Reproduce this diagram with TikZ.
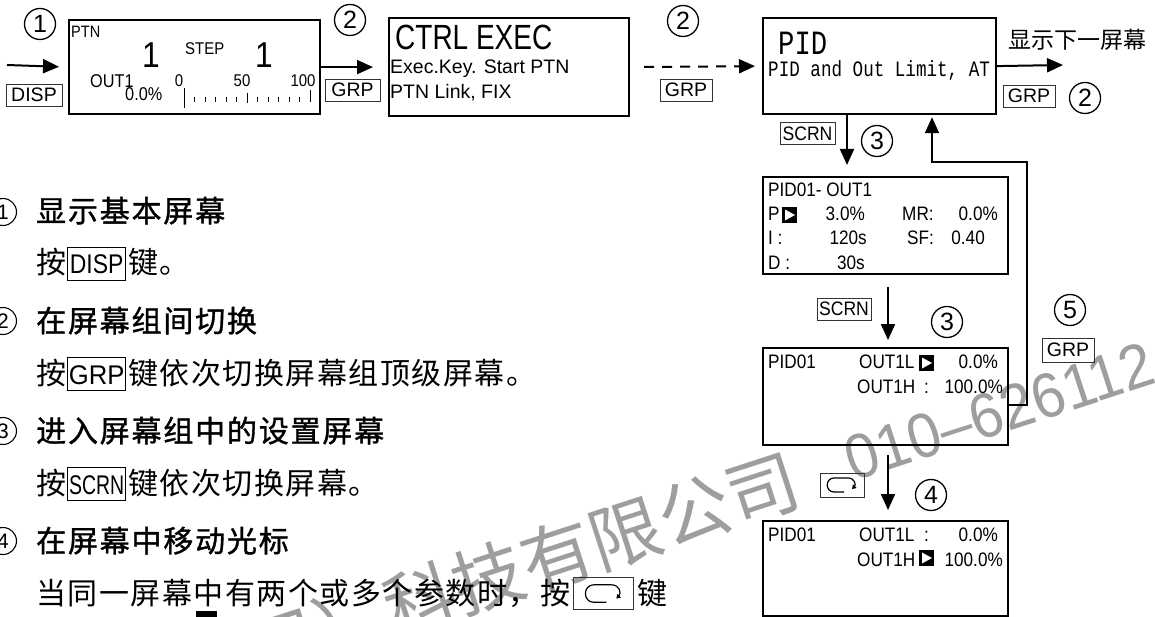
\documentclass[tikz,border=0pt]{standalone}
\usepackage{fontspec}
\usepackage{graphicx}
\setmainfont{Liberation Sans}
\newfontfamily\scrfont[FakeStretch=0.88]{Liberation Sans}
\newfontfamily\scrnfont[FakeStretch=0.8]{Liberation Sans}
\newfontfamily\wmfont[FakeStretch=0.93]{Liberation Sans}
\newfontfamily\pidfont[FakeStretch=0.8]{Liberation Mono}
\newfontfamily\cjkfont{Noto Sans CJK SC}
\newfontfamily\cjkbody[LetterSpace=5]{Noto Sans CJK SC}
\newfontfamily\cjkhead[LetterSpace=6,FakeBold=1.2]{Noto Sans CJK SC}
\usetikzlibrary{arrows.meta}
\newcommand\fs[1]{\fontsize{#1}{#1}\selectfont}
\newcommand\kb[2]{{\setlength\fboxsep{0pt}\setlength\fboxrule{0.9pt}\fbox{\rule[-6pt]{0pt}{32pt}\makebox[57pt]{\normalfont\fs{27}\scalebox{#1}[1]{#2}}}}}
\tikzset{
  screen/.style={draw, line width=2.2pt, inner sep=0pt, anchor=north west},
  key/.style={draw=black!80, line width=0.8pt, inner sep=0pt, minimum height=22pt, font=\normalfont\fs{19.5}},
  arr/.style={line width=2pt, -{Triangle[length=16pt,width=14pt]}},
  num/.style={circle, draw, line width=1.3pt, minimum size=31pt, inner sep=0pt, font=\normalfont\fs{25}},
  lnum/.style={circle, draw, line width=1.1pt, minimum size=27pt, inner sep=0pt, font=\normalfont\fs{21}},
  st/.style={font=\scrfont\fs{19.5}, inner sep=0pt, anchor=base west},
  ste/.style={st, anchor=base east},
  head/.style={font=\cjkhead\fs{30}, inner sep=0pt, anchor=base west},
  body/.style={font=\cjkbody\fs{30}, inner sep=0pt, anchor=base west},
  wmark/.style={text=black!38, rotate=18, inner sep=0pt},
  cur/.pic={\fill (0,0) rectangle (15,16); \fill[white] (3,2.5) -- (3,13.5) -- (13,8) -- cycle;},
  loopsym/.pic={\draw[line width=1.2pt, -{Triangle[length=4pt,width=5pt]}] (2,7) -- (-8,7) .. controls (-17,7) and (-17,-7) .. (-8,-7) -- (6,-7) .. controls (13,-7) and (14,0) .. (10,4);}
}
\begin{document}
\begin{tikzpicture}[x=1pt,y=-1pt]
\clip (0,0) rectangle (1155,617);
% watermark
\node[wmark, font=\cjkfont\fs{72}, anchor=base west] (wm) at (394,637) {科技有限公司};
\node[wmark, font=\cjkfont\fs{72}, anchor=base east] (wm0) at (wm.base west) {司）};
\node[wmark, font=\wmfont\fs{63}, anchor=base west] (wm1) at (853,482) {010–626112};
% ---------- top row ----------
\node[num] (n1) at (40,24) {1};
\coordinate (in1) at (7,65);
\node[key, minimum width=56pt] (kdisp) at (34,95) {DISP};
\node[screen, minimum width=251pt, minimum height=94pt] (b1) at (68,19) {};
\node[st, font=\scrfont\fs{16.5}] (ptn) at (71,38) {PTN};
\node[font=\scrfont\fs{36}, inner sep=0pt, anchor=base] (one1) at (151,68) {1};
\node[st, font=\scrfont\fs{17}] (step) at (185,55) {STEP};
\node[font=\scrfont\fs{36}, inner sep=0pt, anchor=base] (one2) at (264,68) {1};
\node[st, font=\scrfont\fs{18.5}] (out1) at (90,88) {OUT1};
\node[st, font=\scrfont\fs{18.5}] (pct) at (125,101) {0.0\%};
\node[font=\scrfont\fs{17}, inner sep=0pt, anchor=base] (s0) at (179,87) {0};
\node[font=\scrfont\fs{17}, inner sep=0pt, anchor=base] (s50) at (242,87) {50};
\node[font=\scrfont\fs{17}, inner sep=0pt, anchor=base] (s100) at (303,87) {100};
\draw[line width=1pt] (184,88) -- (184,108);
\foreach \i in {1,2,3,4,5,7,8,9,10,11} \draw[line width=0.8pt] ({184+10.5*\i},97) -- ++(0,5);
\draw[line width=1pt] (247,93) -- (247,103);
\draw[line width=1pt] (310,90) -- (310,102);
\draw[arr, shorten >=9pt] (in1) -- (b1.west);

\node[num] (n2a) at (350,20) {2};
\node[key, minimum width=55pt] (kgrp1) at (352.5,90) {GRP};
\node[screen, minimum width=240pt, minimum height=98pt] (b2) at (388,17) {};
\node[st, font=\scrnfont\fs{35}] (ctrl) at (395,50) {CTRL EXEC};
\node[st, font=\normalfont\fs{19.5}] (exec) at (390,74) {Exec.Key. Start PTN};
\node[st, font=\normalfont\fs{19.5}] (link) at (390,99) {PTN Link, FIX};
\draw[arr, shorten >=15pt] (b1.east) -- (b2.west);

\node[num] (n2b) at (683,21) {2};
\node[key, minimum width=52pt] (kgrp2) at (686,90) {GRP};
\node[screen, minimum width=233pt, minimum height=96pt] (b3) at (762,17) {};
\node[st, font=\pidfont\fs{34}] (pid) at (778,55) {PID};
\node[st, font=\pidfont\fs{22}] (pidl) at (768,77) {PID and Out Limit, AT};
\draw[arr, dashed, dash pattern=on 10pt off 8pt, shorten <=14pt, shorten >=7pt] (b2.east) -- (b3.west);

\coordinate (out3) at (1063,65);
\draw[arr] (b3.east) -- (out3);
\node[font=\cjkfont\fs{23}, inner sep=0pt, anchor=base west] (next) at (1008,49) {显示下一屏幕};
\node[key, minimum width=52pt] (kgrp3) at (1029,96) {GRP};
\node[num] (n2c) at (1085,98) {2};

% ---------- right column ----------
\node[screen, minimum width=245pt, minimum height=97pt] (b4) at (762,176) {};
\node[screen, minimum width=245pt, minimum height=97pt] (b5) at (762,347) {};
\node[screen, minimum width=245pt, minimum height=95pt] (b6) at (762,520) {};

\draw[arr, shorten >=11pt] (b3.south -| 847,0) -- (b4.north -| 847,0);
\node[key, minimum width=55pt, font=\normalfont\fs{19.5}] (kscrn1) at (807.5,133.5) {\scalebox{0.9}[1]{SCRN}};
\node[num] (n3a) at (877,141) {3};
\draw[arr, shorten >=2pt] (b5.east |- 0,405) -| (1027,162) -| (b3.south -| 932,0);

% box 4
\node[st] (r0) at (768,197) {PID01- OUT1};
\node[st] (r1p) at (768,221) {P};
\pic at (782,207) {cur};
\node[ste] (r1v) at (865,221) {3.0\%};
\node[st] (r1m) at (902,221) {MR:};
\node[ste] (r1w) at (998,221) {0.0\%};
\node[st] (r2i) at (768,245) {I :};
\node[ste] (r2v) at (867,245) {120s};
\node[st] (r2s) at (907,245) {SF:};
\node[ste] (r2w) at (985,245) {0.40};
\node[st] (r3d) at (768,270) {D :};
\node[ste] (r3v) at (865,270) {30s};

\draw[arr, shorten <=12pt, shorten >=7pt] (b4.south -| 888,0) -- (b5.north -| 888,0);
\node[key, minimum width=54pt] (kscrn2) at (844,309) {\scalebox{0.9}[1]{SCRN}};
\node[num] (n3b) at (947,322) {3};
\node[num] (n5) at (1070,310) {5};
\node[key, minimum width=52pt, minimum height=24pt] (kgrp4) at (1068,350) {GRP};

% box 5
\node[st] (p5a) at (768,368) {PID01};
\node[st] (p5b) at (859,368) {OUT1L};
\pic at (919,355) {cur};
\node[ste] (p5c) at (998,368) {0.0\%};
\node[st] (p5d) at (857,393) {OUT1H};
\node[st] (p5e) at (924,393) {:};
\node[ste] (p5f) at (1003,393) {100.0\%};

\draw[arr, shorten <=9pt, shorten >=10pt] (b5.south -| 888,0) -- (b6.north -| 888,0);
\node[key, minimum width=44pt, minimum height=24pt] (kloop) at (842,485) {};
\pic at (kloop.center) {loopsym};
\node[num] (n4) at (931,495) {4};

% box 6
\node[st] (p6a) at (768,541) {PID01};
\node[st] (p6b) at (859,541) {OUT1L};
\node[st] (p6c) at (924,541) {:};
\node[ste] (p6d) at (998,541) {0.0\%};
\node[st] (p6e) at (857,566) {OUT1H};
\pic at (919,550) {cur};
\node[ste] (p6f) at (1003,566) {100.0\%};

% ---------- left text ----------
\node[lnum] (c1) at (3,212) {1};
\node[head] (h1) at (36,222) {显示基本屏幕};
\node[body] (t1) at (36,274) {按\hspace{1pt}\kb{0.85}{DISP}\hspace{2pt}键。};
\node[lnum] (c2) at (3,321) {2};
\node[head] (h2) at (36,332) {在屏幕组间切换};
\node[body] (t2) at (36,384) {按\hspace{1pt}\kb{0.95}{GRP}\hspace{2pt}键依次切换屏幕组顶级屏幕。};
\node[lnum] (c3) at (3,431) {3};
\node[head] (h3) at (36,442) {进入屏幕组中的设置屏幕};
\node[body] (t3) at (36,494) {按\hspace{1pt}\kb{0.72}{SCRN}\hspace{2pt}键依次切换屏幕。};
\node[lnum] (c4) at (3,541) {4};
\node[head] (h4) at (36,552) {在屏幕中移动光标};
\node[body] (t4) at (36,604) {当同一屏幕中有两个或多个参数时，按};
\node[draw=black!80, line width=0.9pt, inner sep=0pt, minimum width=60pt, minimum height=32pt, anchor=south west] (k8) at ([xshift=3pt,yshift=-6pt]t4.base east) {};
\pic[scale=1.25] at (k8.center) {loopsym};
\path (k8.east |- t4.base) ++(3,0) node[body] (t4b) {键};
\fill (196,611) rectangle (217,625);
\end{tikzpicture}
\end{document}
